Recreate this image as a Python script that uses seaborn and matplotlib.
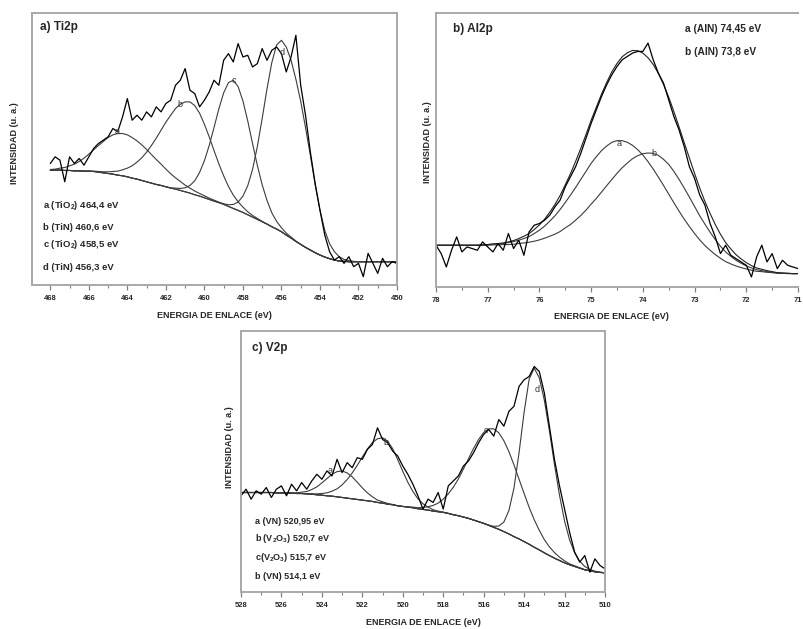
import numpy as np
import matplotlib
matplotlib.use("Agg")
import matplotlib.pyplot as plt
import seaborn as sns

sns.set_style("white")
plt.rcParams["font.family"] = ["Liberation Sans", "DejaVu Sans"]
plt.rcParams["mathtext.default"] = "regular"

# ---- a) Ti2p : binding energy grid 468 -> 450 eV, 0.25 eV step
ti_energy = np.linspace(468, 450, 73)
ti_counts = [365, 385, 375, 310, 385, 365, 380, 360, 385, 410,
             425, 435, 445, 470, 460, 505, 560, 495, 510, 495,
             520, 505, 535, 520, 545, 555, 600, 615, 650, 585,
             575, 535, 555, 580, 615, 600, 675, 695, 670, 725,
             685, 690, 655, 665, 710, 675, 705, 715, 695, 640,
             685, 750, 600, 510, 400, 305, 225, 150, 100, 75,
             85, 65, 85, 55, 65, 25, 95, 65, 35, 80,
             55, 70, 65]
ti_background = [345, 345, 345, 344, 344, 343, 343, 342, 342, 341,
                 339, 337, 335, 333, 330, 328, 325, 321, 318, 314,
                 310, 306, 302, 299, 295, 291, 288, 284, 280, 276,
                 271, 267, 262, 257, 252, 247, 242, 236, 230, 224,
                 218, 211, 204, 197, 190, 183, 175, 168, 160, 150,
                 141, 131, 122, 113, 105, 97, 90, 84, 79, 75,
                 72, 71] + [70] * 11
ti_peak_a = [2, 3, 6, 9, 14, 20, 28, 39, 51, 65, 80, 94, 108, 118, 125, 127,
             126, 122, 115, 107, 97, 86, 75, 64, 53, 43, 34, 27, 20, 15, 11,
             8, 6, 4, 3, 2, 1] + [0] * 36
ti_peak_b = [0] * 9 + [1, 2, 3, 5, 8, 12, 18, 26, 37, 51, 68, 89, 113, 139,
                       166, 194, 219, 242, 259, 270, 274, 268, 249, 221, 188,
                       152, 117, 86, 60, 40, 26, 16, 9, 5, 3, 1] + [0] * 28
ti_peak_c = [0] * 25 + [1, 3, 6, 12, 23, 42, 71, 111, 162, 221, 282, 335, 372,
                        385, 372, 335, 282, 221, 162, 111, 71, 42, 23, 12, 6,
                        3, 1] + [0] * 21
ti_peak_d = [0] * 35 + [1, 2, 5, 12, 25, 49, 87, 143, 219, 310, 406, 493, 553,
                        575, 565, 534, 487, 430, 360, 285, 205, 135, 80, 45,
                        25, 13, 6, 3, 1] + [0] * 9
ti_labels = ["a (TiO$_2$) 464,4 eV", "b (TiN) 460,6 eV",
             "c (TiO$_2$) 458,5 eV", "d (TiN) 456,3 eV"]

# ---- b) Al2p : 78 -> 71 eV, 0.1 eV step
al_energy = np.linspace(78, 71, 71)
al_counts = [125, 100, 60, 110, 150, 105, 120, 115, 110, 135,
             120, 105, 130, 110, 160, 115, 140, 95, 165, 185,
             190, 200, 215, 240, 260, 300, 330, 360, 400, 445,
             490, 530, 570, 605, 635, 660, 680, 690, 700, 705,
             705, 730, 680, 640, 610, 560, 510, 470, 420, 360,
             325, 275, 245, 190, 150, 100, 125, 95, 85, 75,
             65, 30, 90, 125, 75, 100, 55, 80, 65, 60, 55]
al_background = [125] * 21 + [125, 125, 124, 124, 124, 123, 122, 121, 120, 119,
                              117, 115, 113, 111, 109, 106, 103, 100, 97, 94,
                              90, 87, 84, 80, 77, 73, 70, 67, 64, 61,
                              58, 56, 54, 52, 50, 48, 47, 46, 45, 44,
                              43, 42, 42, 41, 41, 40, 40, 40, 40, 40]
al_peak_a = [0] * 9 + [1, 2, 3, 4, 5, 8, 11, 15, 20, 26,
                       35, 45, 57, 72, 89, 108, 129, 152, 176, 201,
                       226, 251, 273, 293, 309, 322, 329, 332, 330, 324,
                       314, 301, 285, 266, 245, 224, 201, 179, 157, 136,
                       117, 99, 83, 68, 56, 45, 36, 28, 22, 17,
                       13, 10, 7, 5, 4, 3, 2, 1, 1, 0, 0, 0]
al_peak_b = [0] * 11 + [1, 1, 2, 2, 3, 5, 7, 9, 12, 16,
                        21, 27, 34, 42, 53, 64, 78, 93, 110, 129,
                        148, 169, 190, 211, 231, 251, 268, 284, 296, 305,
                        311, 313, 310, 302, 290, 273, 252, 229, 205, 180,
                        155, 132, 110, 90, 72, 57, 45, 34, 26, 19,
                        14, 10, 7, 5, 3, 2, 1, 1, 0, 0]
al_labels = ["a (AlN) 74,45 eV", "b (AlN) 73,8 eV"]

# ---- c) V2p : 528 -> 510 eV, 0.25 eV step
v_energy = np.linspace(528, 510, 73)
v_counts = [290, 310, 280, 305, 295, 315, 285, 310, 320, 290,
            325, 305, 330, 310, 335, 355, 340, 365, 350, 400,
            360, 390, 375, 405, 400, 430, 445, 495, 460, 450,
            425, 410, 380, 355, 325, 290, 250, 280, 270, 300,
            250, 320, 335, 350, 380, 395, 420, 450, 475, 490,
            470, 520, 500, 545, 560, 620, 640, 650, 680, 665,
            600, 500, 400, 320, 250, 180, 120, 90, 110, 60,
            100, 80, 70]
v_background = [300, 300, 300, 300, 300, 300, 300, 299, 299, 299,
                298, 297, 297, 296, 295, 293, 292, 290, 289, 287,
                285, 283, 281, 279, 277, 275, 273, 270, 268, 265,
                263, 260, 258, 256, 254, 251, 249, 247, 244, 242,
                240, 237, 233, 230, 226, 222, 217, 212, 207, 201,
                195, 189, 182, 175, 167, 160, 152, 144, 135, 127,
                118, 110, 102, 95, 88, 82, 77, 72, 67, 64,
                61, 59, 58]
v_peak_a = [0] * 10 + [1, 2, 4, 7, 14, 24, 37, 52, 66, 76, 80, 76, 66, 52, 37,
                       24, 14, 7, 4, 2, 1] + [0] * 42
v_peak_b = [0] * 14 + [1, 3, 5, 9, 15, 24, 38, 56, 78, 103, 130, 156, 178, 192,
                       197, 190, 169, 139, 106, 75, 49, 30, 17, 9, 4, 2,
                       1] + [0] * 32
v_peak_c = [0] * 33 + [1, 2, 3, 6, 10, 17, 26, 40, 59, 83, 111, 145, 180, 216,
                       248, 274, 291, 297, 291, 274, 248, 216, 180, 145, 111,
                       83, 59, 40, 26, 17, 10, 6, 3, 2, 1] + [0] * 5
v_peak_d = [0] * 49 + [1, 3, 10, 29, 71, 147, 260, 390, 498, 540,
                       519, 460, 376, 283, 197, 126, 75, 41, 21, 10,
                       4, 2, 1, 0]
v_labels = ["a (VN) 520,95 eV", "b (V$_2$O$_3$) 520,7 eV",
            "c(V$_2$O$_3$) 515,7 eV", "b (VN) 514,1 eV"]

W, H = 804, 629
fig = plt.figure(figsize=(W / 100, H / 100), dpi=100)


def px_axes(left, top, right, bottom):
    return fig.add_axes([left / W, 1 - bottom / H, (right - left) / W, (bottom - top) / H])


def style_panel(ax, xlim, ylim, major, minor, ylab_xy, xlab_xy):
    ax.set_xlim(*xlim)
    ax.set_ylim(*ylim)
    ax.set_xticks(major, labels=[str(int(t)) for t in major])
    ax.set_xticks(minor, minor=True)
    ax.set_yticks([])
    for sp in ax.spines.values():
        sp.set_color("#a8a8a8")
        sp.set_linewidth(1.4)
    ax.tick_params(axis="x", which="major", bottom=True, direction="out", length=3.5,
                   width=0.9, color="#808080", labelsize=5.5, pad=3.5)
    ax.tick_params(axis="x", which="minor", bottom=True, direction="out", length=2,
                   width=0.8, color="#808080")
    for lab in ax.get_xticklabels():
        lab.set_fontweight("bold")
    ax.set_xlabel("ENERGIA DE ENLACE (eV)", fontsize=6.5, fontweight="bold")
    ax.set_ylabel("INTENSIDAD (u. a.)", fontsize=6.5, fontweight="bold")
    ax.yaxis.set_label_coords(*ylab_xy)
    ax.xaxis.set_label_coords(*xlab_xy)
    ax.xaxis.label.set_va("top")


def draw(ax, x, y, color="black", lw=0.9):
    sns.lineplot(x=x, y=y, ax=ax, color=color, linewidth=lw, estimator=None, sort=False)


comp_color = "#3c3c3c"

# ---- panel a
ax = px_axes(32, 13, 397, 285)
bkg = np.array(ti_background)
draw(ax, ti_energy, bkg, comp_color, 0.8)
for peak in (ti_peak_a, ti_peak_b, ti_peak_c, ti_peak_d):
    draw(ax, ti_energy, bkg + np.array(peak), comp_color, 0.8)
draw(ax, ti_energy, ti_counts)
style_panel(ax, (468.95, 450), (0, 817), np.arange(468, 449, -2), np.arange(467, 450, -2),
            (-0.036, 0.52), (0.5, -0.095))
ax.text(0.022, 0.949, "a) Ti2p", transform=ax.transAxes, fontsize=8.5,
        fontweight="bold", va="center")
for lab, yy in zip(ti_labels, (0.294, 0.21, 0.148, 0.063)):
    ax.text(0.03, yy, lab, transform=ax.transAxes, fontsize=6.8, fontweight="bold",
            va="center")
for letter, ex, iy in (("a", 464.55, 460), ("b", 461.25, 543), ("c", 458.45, 613), ("d", 455.95, 697)):
    ax.text(ex, iy, letter, fontsize=6.5, ha="center", va="center", color="#333333")

# ---- panel b
ax = px_axes(436, 13, 798, 287)
bkg = np.array(al_background)
draw(ax, al_energy, bkg + np.array(al_peak_a), comp_color, 0.8)
draw(ax, al_energy, bkg + np.array(al_peak_b), comp_color, 0.8)
draw(ax, al_energy, bkg + np.array(al_peak_a) + np.array(al_peak_b), "#222222", 0.8)
draw(ax, al_energy, al_counts)
style_panel(ax, (78, 71), (0, 820), np.arange(78, 70, -1), np.arange(77.5, 71, -0.5),
            (-0.011, 0.53), (0.485, -0.09))
ax.spines["right"].set_visible(False)
ax.text(0.046, 0.942, "b) Al2p", transform=ax.transAxes, fontsize=8.5,
        fontweight="bold", va="center")
for lab, yy in zip(al_labels, (0.942, 0.858)):
    ax.text(0.688, yy, lab, transform=ax.transAxes, fontsize=7.3, fontweight="bold",
            va="center")
ax.text(74.45, 430, "a", fontsize=6.5, ha="center", va="center", color="#333333")
ax.text(73.78, 400, "b", fontsize=6.5, ha="center", va="center", color="#333333")

# ---- panel c
ax = px_axes(241, 331, 605, 592)
bkg = np.array(v_background)
draw(ax, v_energy, bkg, comp_color, 0.8)
for peak in (v_peak_a, v_peak_b, v_peak_c, v_peak_d):
    draw(ax, v_energy, bkg + np.array(peak), comp_color, 0.8)
draw(ax, v_energy, v_counts)
style_panel(ax, (528, 510), (0, 787), np.arange(528, 509, -2), np.arange(527, 510, -2),
            (-0.019, 0.556), (0.5, -0.1))
ax.text(0.03, 0.935, "c) V2p", transform=ax.transAxes, fontsize=8.5,
        fontweight="bold", va="center")
for lab, yy in zip(v_labels, (0.272, 0.205, 0.134, 0.061)):
    ax.text(0.038, yy, lab, transform=ax.transAxes, fontsize=6.5, fontweight="bold",
            va="center")
for letter, ex, iy in (("a", 523.6, 365), ("b", 520.85, 450), ("c", 515.9, 487), ("d", 513.35, 610)):
    ax.text(ex, iy, letter, fontsize=6.5, ha="center", va="center", color="#333333")

fig.savefig("out.png", dpi=100)
